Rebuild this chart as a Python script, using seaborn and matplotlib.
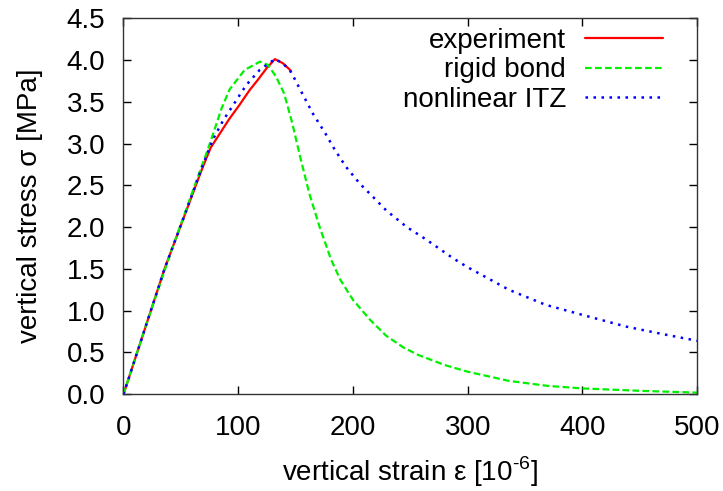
import seaborn as sns
import pandas as pd
import matplotlib.pyplot as plt
from matplotlib.ticker import FormatStrFormatter, MultipleLocator

# data (strain in 1e-6, stress in MPa)
exp_strain = [0, 20, 36, 53.5, 68, 76, 84, 92, 101, 110, 117, 124.7, 132, 139, 146]
exp_stress = [0, 0.84, 1.51, 2.15, 2.68, 2.95, 3.12, 3.29, 3.46, 3.64, 3.76, 3.90, 4.01, 3.96, 3.87]

rigid_strain = [0, 20, 40, 59, 73.8, 85.5, 92.6, 105.6, 118.9, 126, 133, 140, 147, 154, 162,
                171, 181, 189, 200, 215, 229, 244, 257, 280, 300, 336, 370, 400, 453, 500]
rigid_stress = [0, 0.84, 1.65, 2.38, 2.94, 3.42, 3.65, 3.88, 3.98, 3.94, 3.80, 3.60, 3.25, 2.84,
                2.40, 2.00, 1.61, 1.37, 1.13, 0.89, 0.70, 0.56, 0.47, 0.35, 0.27, 0.16, 0.10,
                0.07, 0.04, 0.02]

itz_strain = [0, 20, 36, 53.5, 68, 78, 87, 95.6, 107, 118.7, 132, 139, 146.3, 155, 165, 176,
              184, 194, 206, 217.6, 229, 247, 264, 287, 300, 336, 368, 400, 438, 470, 500]
itz_stress = [0, 0.84, 1.51, 2.15, 2.70, 3.05, 3.28, 3.46, 3.70, 3.88, 4.01, 3.96, 3.85, 3.62,
              3.36, 3.12, 2.93, 2.72, 2.52, 2.36, 2.20, 2.00, 1.85, 1.63, 1.52, 1.25, 1.07,
              0.95, 0.81, 0.72, 0.64]

sns.set_theme(style="ticks")
plt.rcParams['font.family'] = ['Liberation Sans', 'DejaVu Sans']
plt.rcParams['mathtext.fontset'] = 'custom'
plt.rcParams['mathtext.rm'] = 'Liberation Sans'
plt.rcParams['text.color'] = 'black'
plt.rcParams['axes.labelcolor'] = 'black'

fs = 20
fig = plt.figure(figsize=(7.23, 4.91), dpi=100)
ax = fig.add_axes([0.1708, 0.197, 0.7934, 0.766])

df_exp = pd.DataFrame({'strain': exp_strain, 'stress': exp_stress})
df_rigid = pd.DataFrame({'strain': rigid_strain, 'stress': rigid_stress})
df_itz = pd.DataFrame({'strain': itz_strain, 'stress': itz_stress})

sns.lineplot(data=df_exp, x='strain', y='stress', ax=ax, color='#ff0000', lw=1.6,
             label='experiment')
sns.lineplot(data=df_rigid, x='strain', y='stress', ax=ax, color='#00f000', lw=1.6,
             dashes=(3, 1.5), label='rigid bond')
sns.lineplot(data=df_itz, x='strain', y='stress', ax=ax, color='#0000ff', lw=1.8,
             dashes=(1, 2.2), label='nonlinear ITZ')

ax.set_xlim(0, 500)
ax.set_ylim(0, 4.5)
ax.xaxis.set_major_locator(MultipleLocator(100))
ax.yaxis.set_major_locator(MultipleLocator(0.5))
ax.yaxis.set_major_formatter(FormatStrFormatter('%.1f'))
ax.tick_params(direction='in', length=6, width=1, top=True, right=True,
               labelsize=fs, colors='black')
ax.tick_params(axis='x', pad=15)
ax.tick_params(axis='y', pad=13)
for s in ax.spines.values():
    s.set_visible(True)
    s.set_color('#333333')
    s.set_linewidth(1)

ax.set_xlabel('vertical strain ε [10$^{\\text{-6}}$]', fontsize=fs, labelpad=10)
ax.set_ylabel('vertical stress σ [MPa]', fontsize=fs, labelpad=17)

ax.legend(loc='upper right', bbox_to_anchor=(0.941, 0.974), markerfirst=False, frameon=False,
          fontsize=fs, handlelength=2.8, handletextpad=0.7, labelspacing=0.12,
          borderpad=0, borderaxespad=0)

fig.savefig('out.png', dpi=100)
